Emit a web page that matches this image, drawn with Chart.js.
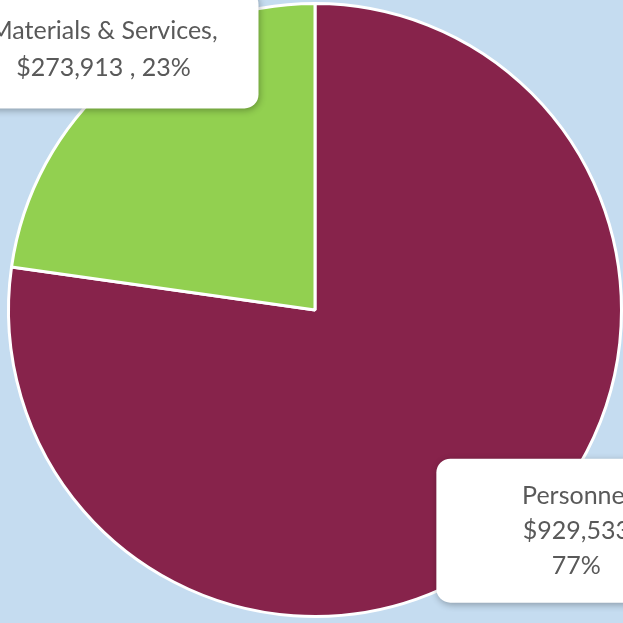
<!DOCTYPE html>
<html>
<head>
<meta charset="utf-8">
<script src="https://cdn.jsdelivr.net/npm/chart.js@4.4.0/dist/chart.umd.min.js"></script>
<style>
    html, body { margin: 0; padding: 0; background: #c5dcf0; }
    #wrap { width: 623px; height: 623px; }
</style>
</head>
<body>
<div id="wrap"><canvas id="ctx"></canvas></div>
<script>
// values
const categories = ['Personnel', 'Materials & Services'];
const amounts = [929533, 273913];
const percents = ['77%', '23%'];
const colors = ['#87234b', '#92d050'];

// label lines for each slice
const labelLines = [
    [categories[0], '$929,533', percents[0]],
    [categories[1] + ',', '$273,913 , ' + percents[1]]
];
// label box placement, as fraction of radius from centre (dx, dy), and box size
const labelPlace = [
    {fx: 0.869, fy: 0.72, w: 290, h: 144, tdx: -5, lh: 35},
    {fx: -0.69, fy: -0.85, w: 310, h: 118, tdx: 0, lh: 37}
];

const calloutPlugin = {
    id: 'callouts',
    afterDatasetsDraw(chart) {
        let ctx = chart.ctx;
        let meta = chart.getDatasetMeta(0);
        meta.data.forEach((arc, i) => {
            let p = labelPlace[i];
            let cx = arc.x + p.fx * arc.outerRadius,
                cy = arc.y + p.fy * arc.outerRadius;
            let x = cx - p.w / 2, y = cy - p.h / 2;
            ctx.save();
            ctx.shadowColor = 'rgba(0,0,0,0.3)';
            ctx.shadowBlur = 7;
            ctx.shadowOffsetX = 1;
            ctx.shadowOffsetY = 2;
            ctx.fillStyle = '#ffffff';
            ctx.beginPath();
            ctx.roundRect(x, y, p.w, p.h, 14);
            ctx.fill();
            ctx.restore();

            ctx.save();
            ctx.fillStyle = '#595959';
            ctx.font = '25px Lato';
            ctx.textAlign = 'center';
            ctx.textBaseline = 'middle';
            let lines = labelLines[i];
            let top = cy - (lines.length - 1) * p.lh / 2;
            lines.forEach((t, k) => ctx.fillText(t, cx + p.tdx, top + k * p.lh));
            ctx.restore();
        });
    }
};

new Chart(document.getElementById('ctx'), {
    type: 'pie',
    data: {
        labels: categories,
        datasets: [{
            data: amounts,
            backgroundColor: colors,
            borderColor: '#ffffff',
            borderWidth: 3
        }]
    },
    options: {
        responsive: true,
        maintainAspectRatio: false,
        animation: false,
        layout: {padding: {left: 7, right: 0, top: 2, bottom: 5}},
        plugins: {
            legend: {display: false},
            tooltip: {enabled: false}
        }
    },
    plugins: [calloutPlugin]
});
</script>
</body>
</html>
